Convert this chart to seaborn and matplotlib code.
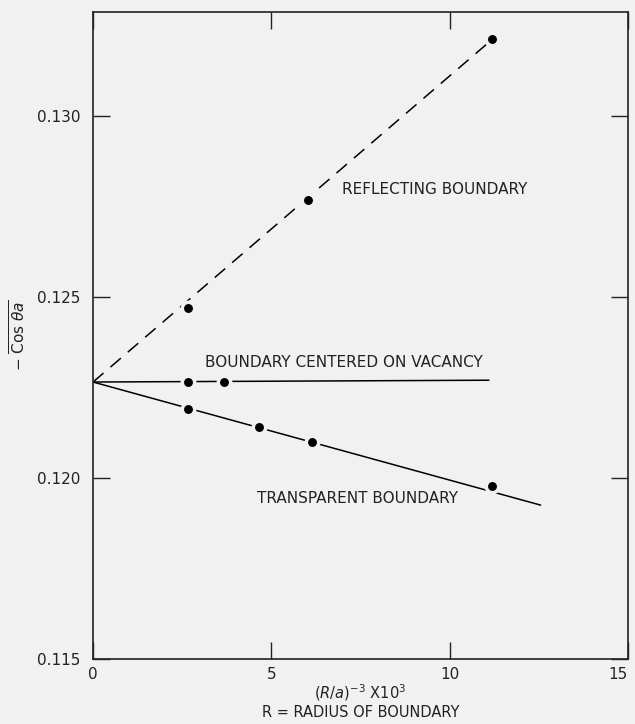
import matplotlib
matplotlib.use("Agg")
import matplotlib.pyplot as plt
import seaborn as sns
import pandas as pd

# Data
refl_x = [2.66, 6.03, 11.2]
refl_y = [0.12470, 0.12768, 0.13212]
cent_x = [2.66, 3.66]
cent_y = [0.12265, 0.12265]
trans_x = [2.66, 4.65, 6.13, 11.19]
trans_y = [0.12191, 0.12141, 0.12099, 0.11979]

# fitted lines (end points)
refl_fit_x = [0.0, 11.2]
refl_fit_y = [0.12265, 0.13212]
cent_fit_x = [0.0, 11.1]
cent_fit_y = [0.12265, 0.12270]
trans_fit_x = [0.0, 12.55]
trans_fit_y = [0.12265, 0.11925]

xticks = [0, 5, 10, 15]
yticks = [0.115, 0.120, 0.125, 0.130]

bg = "#f1f1f1"
sns.set_style("ticks")
plt.rcParams["font.family"] = ["DejaVu Sans"]
plt.rcParams["mathtext.fontset"] = "dejavusans"

fig = plt.figure(figsize=(6.35, 7.24), dpi=100, facecolor=bg)
ax = fig.add_axes([0.1465, 0.0898, 0.8425, 0.8936])
ax.set_facecolor(bg)

lw = 1.1
sns.lineplot(x=refl_fit_x, y=refl_fit_y, ax=ax, color="black", lw=lw,
             dashes=False, linestyle=(0, (9, 6)))
sns.lineplot(x=cent_fit_x, y=cent_fit_y, ax=ax, color="black", lw=lw)
sns.lineplot(x=trans_fit_x, y=trans_fit_y, ax=ax, color="black", lw=lw)

pts = pd.DataFrame({
    "x": refl_x + cent_x + trans_x,
    "y": refl_y + cent_y + trans_y,
})
sns.scatterplot(data=pts, x="x", y="y", ax=ax, color="black", s=80,
                edgecolor=bg, linewidth=2.5, zorder=5)

ax.set_xlim(0, 15)
ax.set_ylim(0.115, 0.13287)
ax.set_xticks(xticks)
ax.set_xticklabels([str(t) for t in xticks])
ax.set_yticks(yticks)
ax.set_yticklabels([f"{t:.3f}" for t in yticks])
ax.tick_params(direction="in", length=12, width=1, top=True, right=True,
               labelsize=11, colors="#222222", pad=9)
ax.tick_params(axis="x", pad=6)
ax.get_xticklabels()[-1].set_horizontalalignment("right")
for s in ax.spines.values():
    s.set_linewidth(1.2)
    s.set_color("#222222")

txt = dict(fontsize=11, color="#222222")
ax.text(6.98, 0.12796, "REFLECTING BOUNDARY", va="center", **txt)
ax.text(3.14, 0.12320, "BOUNDARY CENTERED ON VACANCY", va="center", **txt)
ax.text(4.6, 0.11942, "TRANSPARENT BOUNDARY", va="center", **txt)

ax.set_xlabel("$(R/a)^{-3}$ X10$^{3}$\nR = RADIUS OF BOUNDARY",
              fontsize=10.5, color="#222222", linespacing=1.15, labelpad=0)
ax.set_ylabel(r"$-\ \overline{\mathrm{Cos}\ \theta a}$", fontsize=11,
              color="#222222", labelpad=6)

plt.savefig("out.png", dpi=100, facecolor=bg)
